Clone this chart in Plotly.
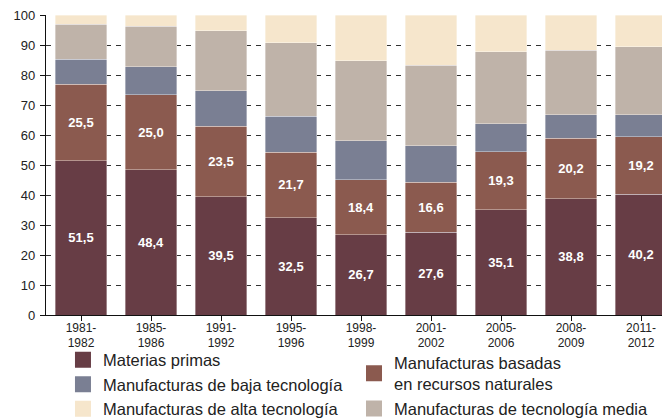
import plotly.graph_objects as go

periods = ["1981-<br>1982", "1985-<br>1986", "1991-<br>1992", "1995-<br>1996", "1998-<br>1999",
           "2001-<br>2002", "2005-<br>2006", "2008-<br>2009", "2011-<br>2012"]

materias_primas = [51.5, 48.4, 39.5, 32.5, 26.7, 27.6, 35.1, 38.8, 40.2]
basadas_rn = [25.5, 25.0, 23.5, 21.7, 18.4, 16.6, 19.3, 20.2, 19.2]
baja_tec = [8.3, 9.4, 11.7, 12.1, 13.0, 12.2, 9.4, 7.7, 7.4]
media_tec = [11.7, 13.5, 20.0, 24.5, 26.7, 26.9, 23.9, 21.5, 22.7]
alta_tec = [3.0, 3.7, 5.3, 9.2, 15.2, 16.7, 12.3, 11.8, 10.5]

def fmt(vals):
    return [f"{v:.1f}".replace(".", ",") for v in vals]

FONT = "Liberation Sans, Arial, sans-serif"
x_idx = list(range(len(periods)))

series = [
    ("Materias primas", materias_primas, "#673d45", True, "legend"),
    ("Manufacturas basadas<br>en recursos naturales", basadas_rn, "#8b5a4f", True, "legend2"),
    ("Manufacturas de baja tecnología", baja_tec, "#7a7f93", False, "legend"),
    ("Manufacturas de tecnología media", media_tec, "#bfb3a9", False, "legend2"),
    ("Manufacturas de alta tecnología", alta_tec, "#f6e6cc", False, "legend"),
]

fig = go.Figure()
for name, vals, color, labeled, leg in series:
    fig.add_trace(go.Bar(
        x=x_idx, y=vals, name=name, showlegend=False,
        marker=dict(color=color, line=dict(color="rgba(255,255,255,0.45)", width=0.8)),
        width=0.74,
        text=fmt(vals) if labeled else None,
        textposition="inside" if labeled else "none",
        insidetextanchor="middle",
        textangle=0,
        textfont=dict(color="white", size=13, family=FONT, weight="bold"),
        hoverinfo="skip",
    ))
# legend entries (square swatches)
for name, vals, color, labeled, leg in series:
    fig.add_trace(go.Scatter(
        x=[None], y=[None], mode="markers", name=name, legend=leg,
        marker=dict(symbol="square", size=16, color=color),
        hoverinfo="skip",
    ))

fig.update_layout(
    barmode="stack",
    width=662, height=410,
    margin=dict(l=38, r=0, t=7, b=103, autoexpand=False),
    paper_bgcolor="white", plot_bgcolor="white",
    font=dict(family=FONT, size=13, color="#222"),
    legend=dict(x=0.0272, y=-0.092, xanchor="left", yanchor="top",
                font=dict(size=16.5, color="#222", family=FONT),
                traceorder="normal", tracegroupgap=0, bgcolor="rgba(0,0,0,0)"),
    legend2=dict(x=0.4936, y=-0.101, xanchor="left", yanchor="top",
                 font=dict(size=16.5, color="#222", family=FONT),
                 traceorder="normal", tracegroupgap=0, bgcolor="rgba(0,0,0,0)"),
)

fig.update_xaxes(
    tickmode="array", tickvals=x_idx, ticktext=periods,
    range=[-0.5, 8.414], showline=True, linecolor="#111", linewidth=1.2,
    ticks="outside", ticklen=5, tickcolor="#111", tickson="boundaries",
    showgrid=False, tickfont=dict(size=12, color="#222"), ticklabelstandoff=-4,
)
fig.update_yaxes(
    range=[0, 100], dtick=10, showline=True, linecolor="#111", linewidth=1.2,
    ticks="outside", ticklen=5, tickcolor="#111", ticklabeloverflow="allow",
    showgrid=True, gridcolor="#333", griddash="5px,5px", gridwidth=1,
    zeroline=False, tickfont=dict(size=13, color="#222"), ticklabelstandoff=2,
)

fig.write_html("out.html")
